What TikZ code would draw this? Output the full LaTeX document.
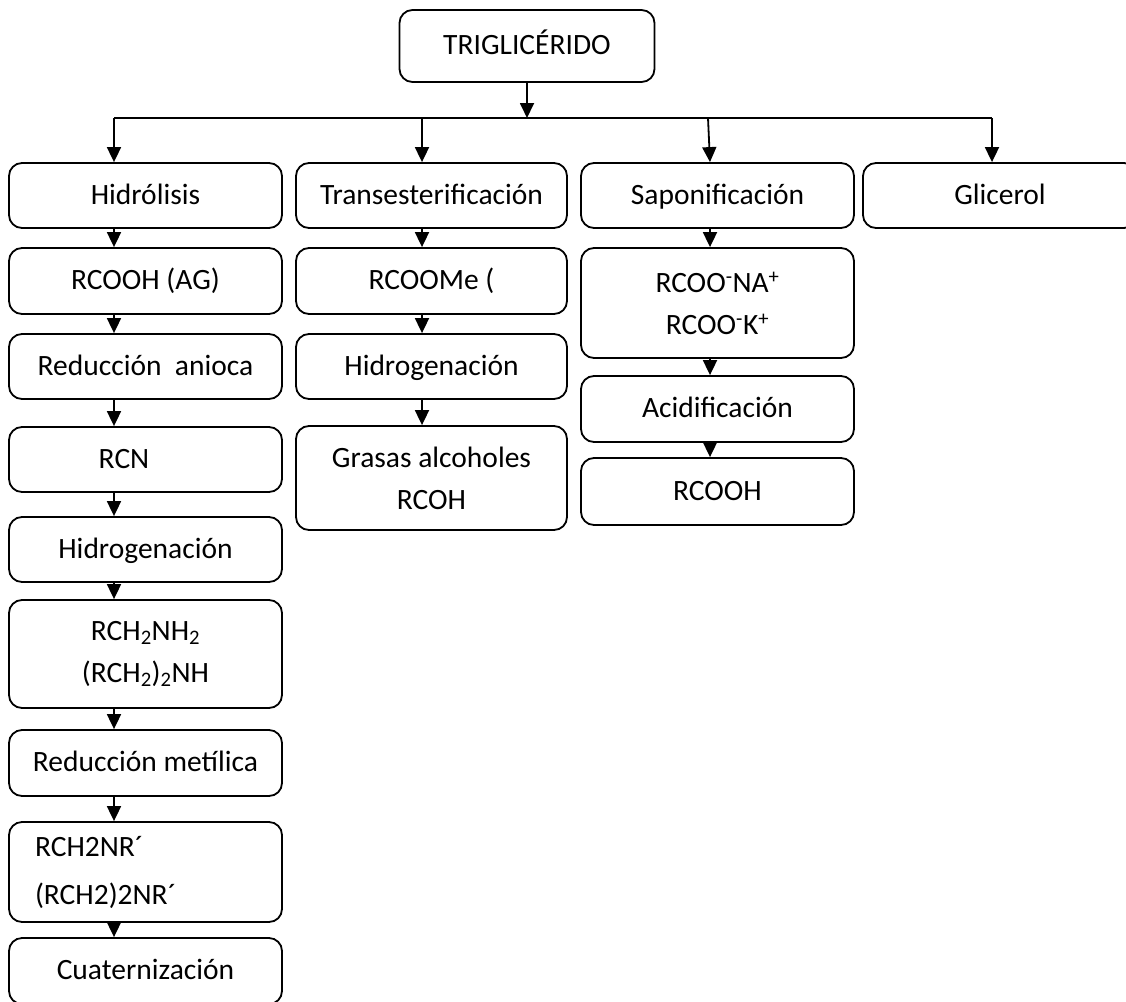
\documentclass[tikz,border=0pt]{standalone}
\usepackage{fontspec}
\setmainfont{Carlito}
\usetikzlibrary{arrows.meta}
\begin{document}
\begin{tikzpicture}[x=1pt,y=-1pt,
	caja/.style={draw,line width=1.8pt,rounded corners=13pt,inner sep=0pt,align=center,
		font=\fontsize{29.5}{42}\selectfont},
	una/.style={text height=17pt,text depth=0pt},
	colA/.style={caja,minimum width=273pt},
	colB/.style={caja,minimum width=271pt},
	colC/.style={caja,minimum width=273pt},
	flecha/.style={line width=1.8pt,-{Triangle[length=15pt,width=14pt]}}]
	\fill[white] (0,0) rectangle (1126,1001);
	\clip (0,0) rectangle (1126,1001);
	% raiz
	\node[caja,una,minimum width=255pt,minimum height=72pt] (trig) at (527,46) {TRIGLICÉRIDO};
	\coordinate (busL) at (114,118);
	\coordinate (busR) at (992,118);
	\coordinate (ejeA) at (114,0);
	\coordinate (ejeB) at (422,0);
	\coordinate (ejeC) at (710,0);
	% fila superior
	\node[colA,una,minimum height=65pt] (hid) at (145.5,195.5) {Hidrólisis};
	\node[colB,una,minimum height=65pt] (trans) at (431.5,195.5) {Transesterificación};
	\node[colC,una,minimum height=65pt] (sapon) at (717.5,195.5) {Saponificación};
	\node[caja,una,minimum width=274pt,minimum height=65pt] (glic) at (1000,195.5) {Glicerol};
	% hidrolisis
	\node[colA,una,minimum height=66pt] (rcooh) at (145.5,281) {RCOOH (AG)};
	\node[colA,una,minimum height=65pt] (anioc) at (145.5,366.5) {Reducción~~anioca};
	\node[colA,una,minimum height=65pt] (rcn) at (145.5,459.5) {RCN\hspace*{43pt}};
	\node[colA,una,minimum height=65pt] (hidA) at (145.5,549.5) {Hidrogenación};
	\node[colA,minimum height=108pt] (amin) at (145.5,654) {RCH\textsubscript{2}NH\textsubscript{2}\\(RCH\textsubscript{2})\textsubscript{2}NH};
	\node[colA,una,minimum height=66pt] (redmet) at (145.5,763) {Reducción metílica};
	\node[colA,minimum height=100pt,text width=221pt,align=left,
		font=\fontsize{29.5}{48}\selectfont] (amter) at (145.5,872) {RCH2NR´\\(RCH2)2NR´};
	\node[colA,una,minimum height=66pt] (cuat) at (145.5,971) {Cuaternización};
	% transesterificacion
	\node[colB,una,minimum height=66pt] (rcoome) at (431.5,281) {RCOOMe (};
	\node[colB,una,minimum height=65pt] (hidB) at (431.5,366.5) {Hidrogenación};
	\node[colB,minimum height=104pt] (grasas) at (431.5,478) {Grasas alcoholes\\RCOH};
	% saponificacion
	\node[colC,minimum height=110pt] (sales) at (717.5,303) {RCOO\textsuperscript{-}NA\textsuperscript{+}\\RCOO\textsuperscript{-}K\textsuperscript{+}};
	\node[colC,una,minimum height=66pt] (acid) at (717.5,409) {Acidificación};
	\node[colC,una,minimum height=67pt] (rcoohB) at (717.5,491.5) {RCOOH};
	% conectores
	\draw[flecha] (trig.south) -- (trig.south |- busL);
	\draw[line width=1.8pt] (busL) -- (busR);
	\draw[flecha] (busL) -- (hid.north -| busL);
	\draw[flecha] (ejeB |- busL) -- (trans.north -| ejeB);
	\draw[flecha] ([xshift=-2pt]ejeC |- busL) -- (sapon.north -| ejeC);
	\draw[flecha] (busR) -- (glic.north -| busR);
	\foreach \a/\b in {hid/rcooh,rcooh/anioc,anioc/rcn,rcn/hidA,hidA/amin,amin/redmet,redmet/amter,amter/cuat}{
		\draw[flecha] (\a.south -| ejeA) -- (\b.north -| ejeA);
	}
	\foreach \a/\b in {trans/rcoome,rcoome/hidB,hidB/grasas}{
		\draw[flecha] (\a.south -| ejeB) -- (\b.north -| ejeB);
	}
	\foreach \a/\b in {sapon/sales,sales/acid,acid/rcoohB}{
		\draw[flecha] (\a.south -| ejeC) -- (\b.north -| ejeC);
	}
\end{tikzpicture}
\end{document}
